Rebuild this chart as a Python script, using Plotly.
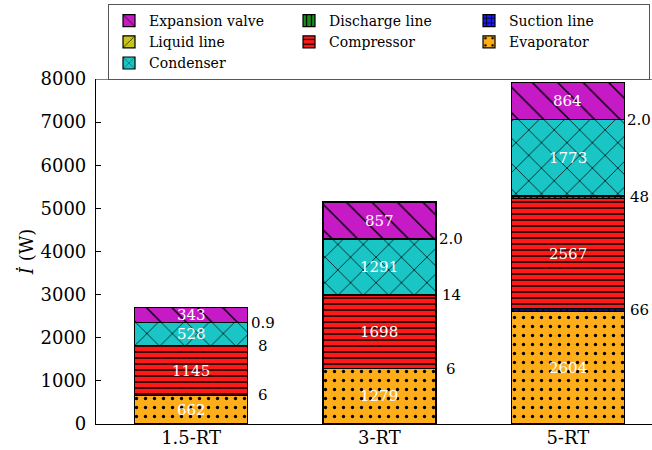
import numpy as np
import plotly.graph_objects as go

# ---------------- data ----------------
categories = ["1.5-RT", "3-RT", "5-RT"]
evaporator = [662, 1279, 2604]
suction_line = [6, 6, 66]
compressor = [1145, 1698, 2567]
discharge_line = [8, 14, 48]
condenser = [528, 1291, 1773]
liquid_line = [0.9, 2.0, 2.0]
expansion_valve = [343, 857, 864]
y_tick_values = [0, 1000, 2000, 3000, 4000, 5000, 6000, 7000, 8000]

# stacking order, bottom to top
series_names = ["Evaporator", "Suction line", "Compressor", "Discharge line",
                "Condenser", "Liquid line", "Expansion valve"]
series_values = [evaporator, suction_line, compressor, discharge_line,
                 condenser, liquid_line, expansion_valve]

# ---------------- styles ----------------
styles = {
    "Evaporator":      dict(color="#ffae1a", shape=".",  size=9,  solidity=0.11, rank=6, inside=True),
    "Suction line":    dict(color="#1a1aff", shape="+",  size=6,  solidity=0.3,  rank=3, inside=False),
    "Compressor":      dict(color="#ff1a1a", shape="-",  size=6,  solidity=0.25, rank=5, inside=True),
    "Discharge line":  dict(color="#1a8c1a", shape="|",  size=6,  solidity=0.25, rank=2, inside=False),
    "Condenser":       dict(color="#1ac5c5", shape="x",  size=18, solidity=0.08, rank=7, inside=True),
    "Liquid line":     dict(color="#c5c51a", shape="/",  size=18, solidity=0.08, rank=4, inside=False),
    "Expansion valve": dict(color="#c51ac5", shape="\\", size=18, solidity=0.08, rank=1, inside=True),
}

FONT = "'DejaVu Serif', serif"
xpos = np.arange(len(categories))

fig = go.Figure()
annotations = []
base = np.zeros(len(categories))
for name, vals in zip(series_names, series_values):
    st = styles[name]
    vals_arr = np.array(vals, dtype=float)
    fig.add_trace(go.Bar(
        x=xpos, y=vals_arr, name=name, width=0.6,
        legendrank=st["rank"],
        marker=dict(
            color=st["color"],
            line=dict(color="black", width=1.2),
            pattern=dict(shape=st["shape"], size=st["size"], solidity=st["solidity"],
                         fgcolor="black", bgcolor=st["color"], fillmode="replace"),
        ),
        hoverinfo="skip",
    ))
    mids = base + vals_arr / 2
    for i, v in enumerate(vals):
        label = f"{v:.1f}" if v < 5 else f"{v:.0f}"
        if st["inside"]:
            annotations.append(dict(x=xpos[i], y=mids[i], text=label, showarrow=False,
                                    xanchor="center", yanchor="middle",
                                    font=dict(family=FONT, size=15, color="white")))
        else:
            annotations.append(dict(x=xpos[i] + 0.38, y=mids[i], text=label, showarrow=False,
                                    xanchor="center", yanchor="middle",
                                    font=dict(family=FONT, size=15, color="black")))
    base = base + vals_arr

fig.update_layout(
    width=652, height=450,
    margin=dict(l=96, r=0, t=79, b=26),
    barmode="stack",
    paper_bgcolor="white", plot_bgcolor="white",
    font=dict(family=FONT, color="black"),
    annotations=annotations,
    showlegend=True,
    legend=dict(
        orientation="h", traceorder="normal",
        x=0.0216, y=1.2174, xanchor="left", yanchor="top",
        entrywidth=135,
        bordercolor="#555555", borderwidth=1, bgcolor="white",
        font=dict(family=FONT, size=14),
    ),
    shapes=[dict(type="line", xref="paper", yref="y", x0=0, x1=1, y0=8000, y1=8000,
                 line=dict(color="black", width=1.2))],
)

fig.update_xaxes(
    range=[-0.505, 2.447],
    tickmode="array", tickvals=xpos, ticktext=categories,
    showline=True, linecolor="black", linewidth=1.2,
    ticks="", showgrid=False, zeroline=False,
    ticklabelstandoff=-3,
    tickfont=dict(family=FONT, size=18),
)
fig.update_yaxes(
    range=[0, 8000],
    tickmode="array", tickvals=y_tick_values,
    ticktext=[str(v) for v in y_tick_values],
    showline=True, linecolor="black", linewidth=1.2,
    ticks="inside", ticklen=5, tickcolor="black",
    ticklabelstandoff=5,
    showgrid=False, zeroline=False,
    tickfont=dict(family=FONT, size=18),
    title=dict(text="<i>İ</i> (W)", font=dict(family=FONT, size=18), standoff=2),
)

fig.write_html("out.html")
